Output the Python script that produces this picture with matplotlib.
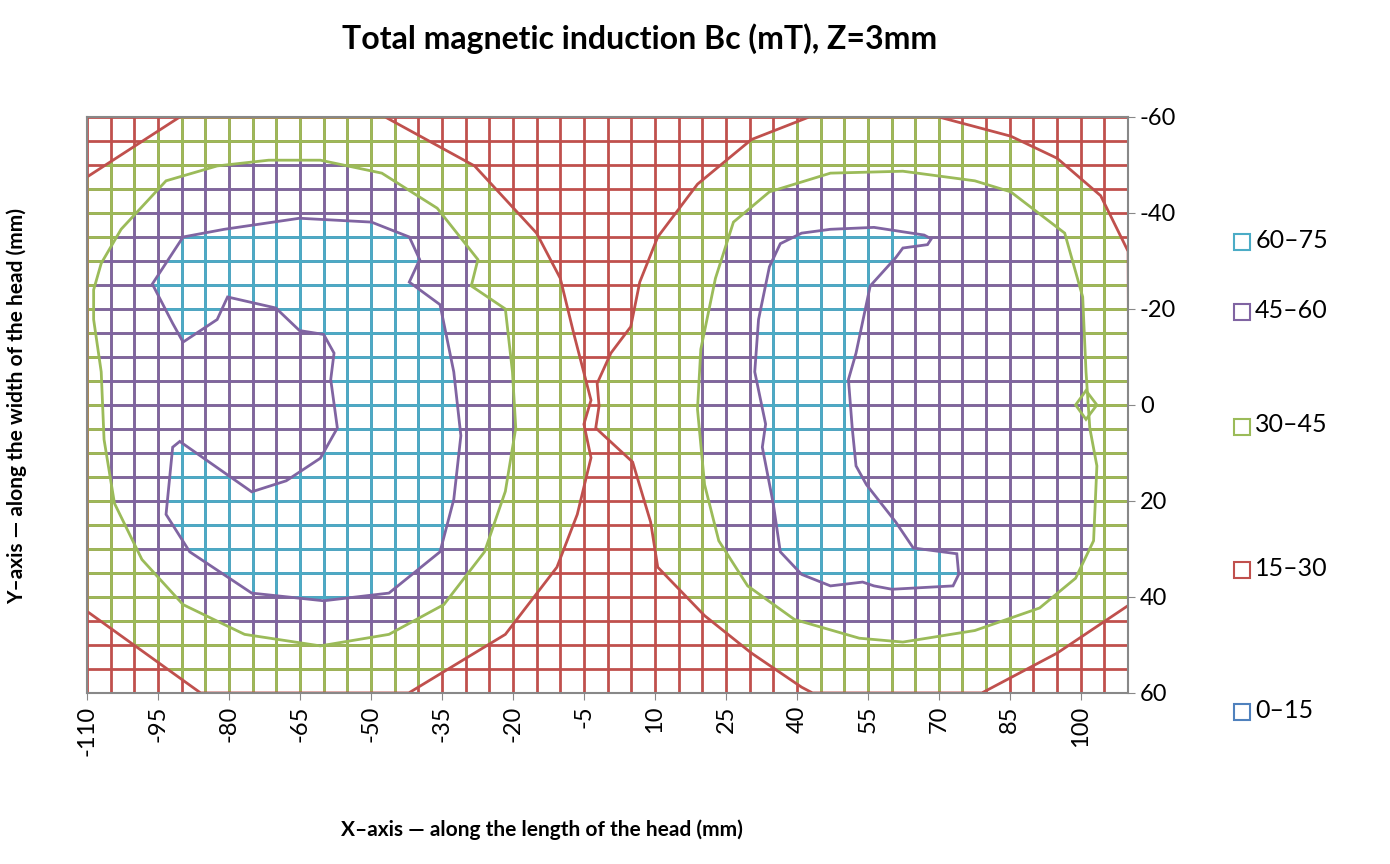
import numpy as np
import matplotlib.pyplot as plt
from matplotlib.patches import Polygon

plt.rcParams['font.family'] = ['Lato', 'DejaVu Sans']

# ── band colours ───────────────────────────────────────────────────
RED, GREEN, PURPLE, CYAN, BLUE = "#C0504D", "#9BBB59", "#8064A2", "#4BACC6", "#4F81BD"

# ── grid / ticks ───────────────────────────────────────────────────
x_ticks = list(range(-110, 101, 15))
y_ticks = [-60, -40, -20, 0, 20, 40, 60]
legend_labels = ["60–75", "45–60", "30–45", "15–30", "0–15"]

# ── contour outlines (x mm, y mm) ──────────────────────────────────
# 30-45 band, left lobe (includes plot edges)
green_left_x = [-110, -90.4, -47, -28.1, -15, -10, -7.1, -3.5, -5, -3.5, -6.4, -10.7, -21.6, -42, -86, -110]
green_left_y = [-47.5, -60, -60, -49.8, -35.8, -26.4, -14.7, -1, 4, 11, 22.8, 33.8, 47.8, 60, 60, 43]
# 30-45 band, right lobe
green_right_x = [42.6, 30.4, 19, 10.6, 6.8, 4.9, 0.7, -2.2, -1.8, -2.5, 5.3, 9.1, 10.6, 20.5, 30.4, 41, 43.3,
                 79.1, 95, 110.3, 110, 104.2, 95, 85.2, 70]
green_right_y = [-60, -55.3, -46, -35, -25.6, -16.3, -10.8, -4.5, 0.2, 4.8, 11.9, 24.4, 33.8, 43.9, 51.7, 58.8, 60,
                 60, 51.7, 41.6, -32, -43.6, -51.4, -56, -60]
# 45-60 band
purple_left_x = [-108.6, -107, -102.8, -93.3, -82.5, -71.6, -60.7, -47.7, -36, -27.4, -28.8, -21.6, -20.1, -19.4,
                 -21.6, -26, -34.6, -46.2, -60.7, -76.7, -89.7, -98.4, -104.2, -106.4, -107, -108.6]
purple_left_y = [-24, -29.5, -36.6, -46.7, -49.8, -51, -51, -48.3, -41, -30.3, -24.8, -20, -6.9, 4.8,
                 18, 30.6, 41.6, 47.8, 50.2, 47.8, 41.6, 32.2, 20.5, 7.2, -6.9, -17.8]
purple_right_x = [19, 19.7, 22.8, 26.6, 34.2, 47.1, 62.4, 77.6, 85.2, 96.6, 100.4, 101.1, 101.9, 103.4, 102.7,
                  98.9, 91.3, 77.6, 62.4, 53.2, 39.5, 29.6, 23.5, 20.5]
purple_right_y = [0.9, -11.6, -26.4, -38.1, -44.4, -48.3, -48.7, -46.7, -44.4, -35.8, -22.5, -6.9, 4.8, 12.7, 28.3,
                  36.1, 42.3, 47, 49.4, 48.6, 44.7, 37.7, 28.3, 16.6]
diamond_x = [98.9, 101.1, 103.4, 101.1]
diamond_y = [0, -3, 0, 3]
# 60-75 band
cyan_left_x = [-96.2, -89.7, -81, -65.1, -49.9, -41.9, -39.7, -41.9, -35.4, -32.5, -31, -32.5, -35.4, -46.2, -60,
               -75.2, -88.3, -93.3, -91.9, -90.4, -75.2, -67.9, -60.7, -57.1, -58.5, -57.8, -60, -65.1, -70.1,
               -80.3, -82.5, -89.7, -91.9]
cyan_left_y = [-25.2, -35, -36.6, -38.9, -38.1, -35, -30.3, -25.6, -20.9, -6.9, 6.4, 19.7, 30.6, 39.2, 40.8,
               39.2, 30.6, 22.8, 8.8, 7.6, 18.1, 15.8, 11.1, 4.8, -5.3, -10.8, -14.7, -15.5, -20.2,
               -22.5, -17.8, -13.1, -17]
cyan_right_x = [41, 47.1, 56.3, 66.9, 68.4, 67.6, 62.4, 60.9, 55.5, 54, 52.5, 50.9, 51.7, 52.5, 54.7, 60.9, 64.6,
                73.8, 74.2, 73, 60.1, 56.3, 53.9, 47.1, 41, 36.5, 35, 32.7, 33.4, 31.1, 31.9, 34.2, 36.5]
cyan_right_y = [-35.8, -36.6, -37, -35.4, -34.6, -33.4, -32.7, -30.7, -24.8, -17.8, -10.8, -5.3, 4.8, 12.7, 16.6,
                24.4, 29.8, 31, 35.3, 37.7, 38.4, 37.7, 36.9, 37.7, 35.3, 30.6, 20.5, 8.8, 4, -6.9, -17.8, -28.8,
                -33.6]

fig = plt.figure(figsize=(13.9, 8.64), dpi=100)
ax = fig.add_axes([0.0626, 0.198, 0.749, 0.6666])
ax.set_xlim(-110, 110)
ax.set_ylim(60, -60)

gx = np.arange(-110, 111, 5)
gy = np.arange(-60, 61, 5)


def grid(color, clip=None):
    lv = ax.vlines(gx, -60, 60, colors=color, linewidth=2.0, zorder=1)
    lh = ax.hlines(gy, -110, 110, colors=color, linewidth=2.0, zorder=1)
    if clip is not None:
        lv.set_clip_path(clip)
        lh.set_clip_path(clip)


grid(RED)
bands = [
    (GREEN, RED, [(green_left_x, green_left_y), (green_right_x, green_right_y)]),
    (PURPLE, GREEN, [(purple_left_x, purple_left_y), (purple_right_x, purple_right_y)]),
    (CYAN, PURPLE, [(cyan_left_x, cyan_left_y), (cyan_right_x, cyan_right_y)]),
]
for fill_col, edge_col, polys in bands:
    for px, py in polys:
        patch = Polygon(np.column_stack([px, py]), closed=True, fill=False,
                        edgecolor=edge_col, linewidth=2.0, zorder=3)
        ax.add_patch(patch)
        grid(fill_col, clip=patch)
ax.add_patch(Polygon(np.column_stack([diamond_x, diamond_y]), closed=True, fill=False,
                     edgecolor=GREEN, linewidth=2.0, zorder=3))

for s in ax.spines.values():
    s.set_color("#888888")
    s.set_linewidth(1.5)
    s.set_zorder(4)

ax.set_xticks(x_ticks)
ax.set_xticklabels([str(v) for v in x_ticks], rotation=90, fontsize=17)
ax.set_yticks(y_ticks)
ax.set_yticklabels([str(v) for v in y_ticks], fontsize=17)
ax.yaxis.tick_right()
ax.tick_params(axis="both", color="#888888", length=5)
ax.tick_params(axis="x", pad=4)

fig.text(0.46, 0.955, "Total magnetic induction Bc (mT), Z=3mm", ha="center", va="center",
         fontsize=23, fontweight="bold")
fig.text(0.012, 0.53, "Y–axis — along the width of the head (mm)", rotation=90,
         ha="center", va="center", fontsize=15, fontweight="bold")
fig.text(0.39, 0.04, "X–axis — along the length of the head (mm)", ha="center", va="center",
         fontsize=15, fontweight="bold")

legend_y = [240, 310, 425, 568, 710]
legend_col = [CYAN, PURPLE, GREEN, RED, BLUE]
for lab, py, col in zip(legend_labels, legend_y, legend_col):
    yf = 1 - py / 864
    fig.patches.append(plt.Rectangle((0.888, yf - 0.011), 0.0115, 0.0185, transform=fig.transFigure,
                                     fill=False, edgecolor=col, linewidth=1.5))
    fig.text(0.903, yf, lab, ha="left", va="center", fontsize=18)

fig.savefig("out.png", dpi=100)
